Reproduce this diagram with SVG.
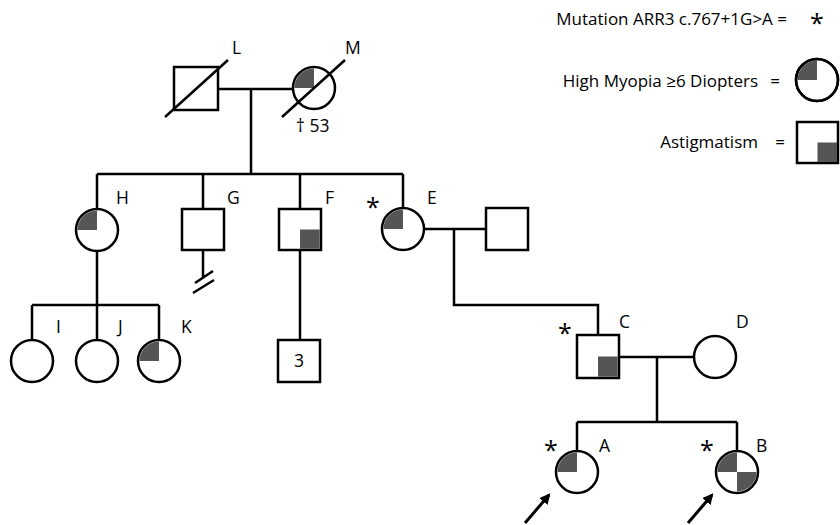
<svg xmlns="http://www.w3.org/2000/svg" width="840" height="525" viewBox="0 0 840 525">
<defs>
<style>
.s{fill:#fff;stroke:#000;stroke-width:2.5}
.sh{fill:#555;stroke:none}
.ln{fill:none;stroke:#000;stroke-width:2.5}
.ar{fill:none;stroke:#000;stroke-width:3}
.lb{font-family:"Open Sans","DejaVu Sans",sans-serif;font-size:17.5px;fill:#000}
.lg{font-family:"Open Sans","DejaVu Sans",sans-serif;font-size:17px;fill:#000}
.ast{font-family:"Open Sans","DejaVu Sans",sans-serif;font-size:25px;fill:#000;text-anchor:middle}
</style>
<marker id="ah" viewBox="0 0 10 10" refX="8" refY="5" markerWidth="3.6" markerHeight="3.6" orient="auto" markerUnits="strokeWidth">
<path d="M0,0 L10,5 L0,10 Z" fill="#000"/>
</marker>
</defs>
<rect width="840" height="525" fill="#fff"/>

<g id="connectors">
<path class="ln" d="M218,89 H293 M251,89 V174 M97,174 H403 M97,174 V209 M203,174 V209 M300,174 V209 M403,174 V208"/>
<path class="ln" d="M97,251 V305 M32,305 H159 M32,305 V340 M97,305 V340 M159,305 V340"/>
<path class="ln" d="M300,250 V340"/>
<path class="ln" d="M203,250 V277 M195,283 L213,271 M193,293 L214,280"/>
<path class="ln" d="M424,229 H486 M454,229 V305 H598 V335"/>
<path class="ln" d="M619,357 H694 M657,357 V422 M577,422 H737 M577,422 V451 M737,422 V451"/>
<path class="ar" d="M525,523 L549,495" marker-end="url(#ah)"/>
<path class="ar" d="M688,523 L712,495" marker-end="url(#ah)"/>
</g>

<g id="legend">
<text class="lg" x="787" y="25" text-anchor="end">Mutation ARR3 c.767+1G&gt;A =</text>
<text class="ast" x="817" y="32">*</text>
<text class="lg" x="758" y="87" text-anchor="end">High Myopia ≥6 Diopters</text>
<text class="lg" x="780" y="87" text-anchor="end">=</text>
<circle class="s" cx="817" cy="80" r="21"/>
<path class="sh" d="M817,80 H797.5 A19.5,19.5 0 0 1 817,60.5 Z"/>
<circle cx="817" cy="80" r="21" fill="none" stroke="#000" stroke-width="2.5"/>
<text class="lg" x="758" y="148" text-anchor="end">Astigmatism</text>
<text class="lg" x="785" y="148" text-anchor="end">=</text>
<rect class="s" x="797" y="122" width="41" height="41"/>
<rect class="sh" x="817.5" y="142.5" width="19.5" height="19.5"/>
</g>

<g id="L">
<rect class="s" x="174" y="67" width="44" height="43"/>
<path class="ln" d="M165,117 L228,60"/>
<text class="lb" x="232" y="54">L</text>
</g>
<g id="M">
<circle class="s" cx="314" cy="88" r="21"/>
<path class="sh" d="M314,88 H294.5 A19.5,19.5 0 0 1 314,68.5 Z"/>
<path class="ln" d="M282,117 L345,60"/>
<text class="lb" x="345" y="54">M</text>
<text class="lb" x="296" y="132">† 53</text>
</g>

<g id="H">
<circle class="s" cx="97" cy="230" r="21"/>
<path class="sh" d="M97,230 H77.5 A19.5,19.5 0 0 1 97,210.5 Z"/>
<text class="lb" x="116" y="204">H</text>
</g>
<g id="G">
<rect class="s" x="182" y="209" width="42" height="41"/>
<text class="lb" x="227" y="204">G</text>
</g>
<g id="F">
<rect class="s" x="279" y="209" width="42" height="41"/>
<rect class="sh" x="300" y="229.5" width="19.7" height="19.3"/>
<text class="lb" x="325" y="204">F</text>
</g>
<g id="E">
<circle class="s" cx="403" cy="229" r="21"/>
<path class="sh" d="M403,229 H383.5 A19.5,19.5 0 0 1 403,209.5 Z"/>
<text class="lb" x="427" y="204">E</text>
<text class="ast" x="373" y="216">*</text>
</g>
<g id="E-spouse">
<rect class="s" x="486" y="208" width="42" height="42"/>
</g>

<g id="I">
<circle class="s" cx="32" cy="361" r="21"/>
<text class="lb" x="56" y="333">I</text>
</g>
<g id="J">
<circle class="s" cx="97" cy="361" r="21"/>
<text class="lb" x="118" y="333">J</text>
</g>
<g id="K">
<circle class="s" cx="159" cy="361" r="21"/>
<path class="sh" d="M159,361 H139.5 A19.5,19.5 0 0 1 159,341.5 Z"/>
<text class="lb" x="181" y="333">K</text>
</g>
<g id="F-children">
<rect class="s" x="278" y="340" width="42" height="42"/>
<text class="lb" x="299" y="367" text-anchor="middle">3</text>
</g>

<g id="C">
<rect class="s" x="577" y="335" width="42" height="43"/>
<rect class="sh" x="598" y="356.5" width="19.7" height="20.2"/>
<text class="lb" x="619" y="328">C</text>
<text class="ast" x="565" y="342">*</text>
</g>
<g id="D">
<circle class="s" cx="715" cy="357" r="21"/>
<text class="lb" x="736" y="328">D</text>
</g>

<g id="A">
<circle class="s" cx="577" cy="472" r="21"/>
<path class="sh" d="M577,472 H557.5 A19.5,19.5 0 0 1 577,452.5 Z"/>
<text class="lb" x="599" y="452">A</text>
<text class="ast" x="551" y="459">*</text>
</g>
<g id="B">
<circle class="s" cx="737" cy="472" r="21"/>
<path class="sh" d="M737,472 H717.5 A19.5,19.5 0 0 1 737,452.5 Z"/>
<path class="sh" d="M737,472 H756.5 A19.5,19.5 0 0 1 737,491.5 Z"/>
<text class="lb" x="756" y="452">B</text>
<text class="ast" x="707" y="459">*</text>
</g>
</svg>
